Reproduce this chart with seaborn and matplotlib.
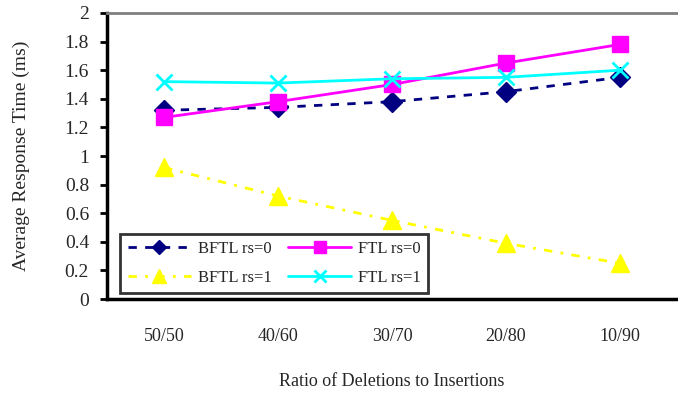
import pandas as pd
import seaborn as sns
import matplotlib.pyplot as plt

# === Data ===
ratios = ["50/50", "40/60", "30/70", "20/80", "10/90"]
bftl_rs0 = [1.32, 1.34, 1.38, 1.45, 1.55]
ftl_rs0 = [1.27, 1.38, 1.50, 1.65, 1.78]
bftl_rs1 = [0.92, 0.72, 0.55, 0.39, 0.25]
ftl_rs1 = [1.52, 1.51, 1.54, 1.55, 1.60]

series = {
    "BFTL rs=0": bftl_rs0,
    "BFTL rs=1": bftl_rs1,
    "FTL rs=0": ftl_rs0,
    "FTL rs=1": ftl_rs1,
}
styles = {
    "BFTL rs=0": dict(color="#000080", marker="D", markersize=10, linestyle=(0, (3, 3))),
    "BFTL rs=1": dict(color="#FFFF00", marker="^", markersize=13, linestyle=(0, (3, 3, 1, 3))),
    "FTL rs=0": dict(color="#FF00FF", marker="s", markersize=12, linestyle="-"),
    "FTL rs=1": dict(color="#00FFFF", marker="x", markersize=12, linestyle="-", markeredgewidth=2),
}

rows = []
for name, vals in series.items():
    for i, v in enumerate(vals):
        rows.append({"series": name, "pos": i, "time": v})
df = pd.DataFrame(rows)

sns.set_style("white")
plt.rcParams["font.family"] = ["Liberation Serif", "DejaVu Serif"]

fig = plt.figure(figsize=(6.78, 3.93), dpi=100)
ax = fig.add_axes([0.158, 0.239, 0.8405, 0.728])

for name in series:
    st = styles[name]
    sub = df[df["series"] == name]
    sns.lineplot(data=sub, x="pos", y="time", ax=ax, label=name,
                 color=st["color"], marker=st["marker"], markersize=st["markersize"],
                 linestyle=st["linestyle"], linewidth=2,
                 markeredgecolor=st["color"], markeredgewidth=st.get("markeredgewidth", 1))

ax.set_xlim(-0.5, 4.5)
ax.set_ylim(0, 2)
ax.set_yticks([i * 0.2 for i in range(11)])
ax.set_yticklabels(["0", "0.2", "0.4", "0.6", "0.8", "1", "1.2", "1.4", "1.6", "1.8", "2"], fontsize=14)
ax.set_xticks(range(5))
ax.set_xticklabels(ratios, fontsize=13)
ax.set_xticks([0.5, 1.5, 2.5, 3.5], minor=True)
ax.tick_params(axis="x", which="major", length=0, pad=21)
ax.tick_params(axis="x", which="minor", direction="in", length=6, width=2, color="black")
ax.tick_params(axis="y", direction="out", length=5, width=2, color="black", left=True, pad=8)

for side in ["left", "bottom"]:
    ax.spines[side].set_color("black")
    ax.spines[side].set_linewidth(2.5)
ax.spines["top"].set_color("#808080")
ax.spines["top"].set_linewidth(2)
ax.spines["right"].set_visible(False)

ax.set_xlabel("Ratio of Deletions to Insertions", fontsize=13, labelpad=20)
ax.set_ylabel("Average Response Time (ms)", fontsize=14, labelpad=25)

leg = ax.legend(ncol=2, loc="lower left", bbox_to_anchor=(0.023, 0.021), borderaxespad=0,
                fontsize=12, frameon=True, fancybox=False, edgecolor="black",
                handlelength=3.8, columnspacing=1.0, borderpad=0.45, labelspacing=0.75,
                handletextpad=0.4, markerscale=0.75)
leg.get_frame().set_linewidth(2)

fig.savefig("out.png", dpi=100)
plt.close()
